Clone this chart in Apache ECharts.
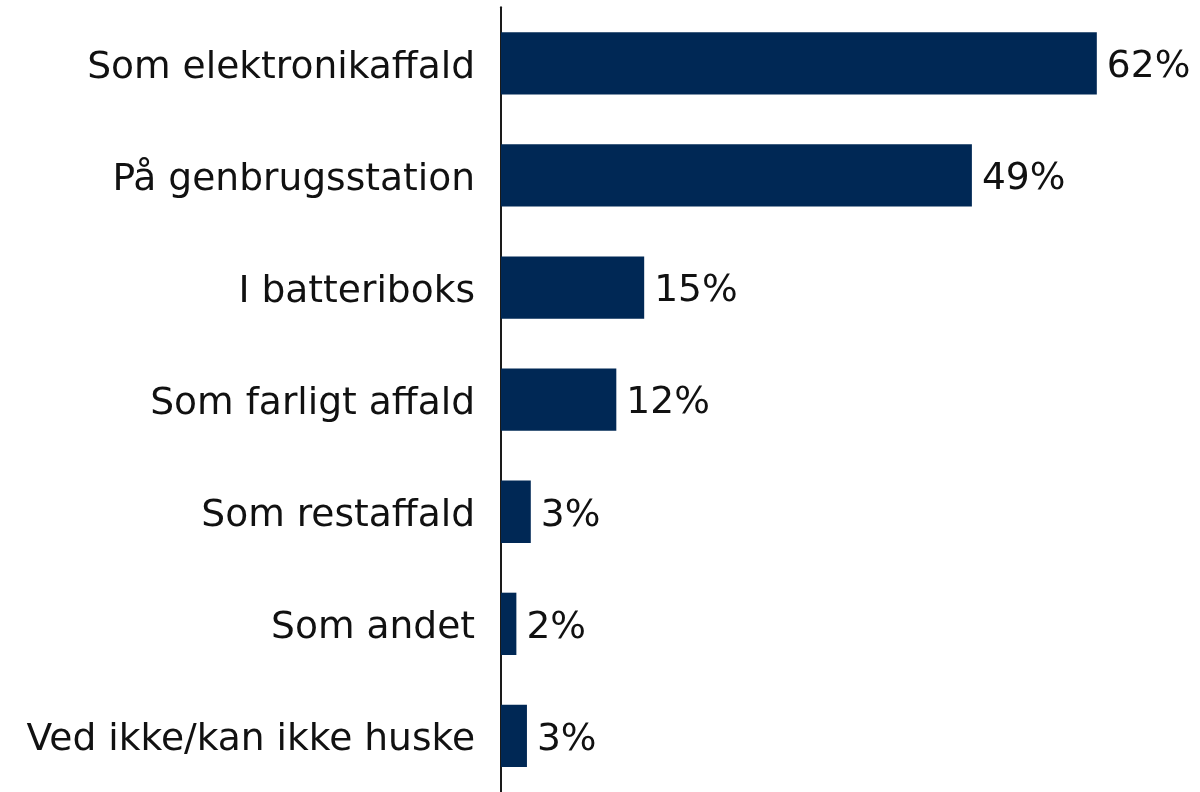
<!DOCTYPE html>
<html><head><meta charset="utf-8">
<script src="https://cdn.jsdelivr.net/npm/echarts@6/dist/echarts.min.js"></script>
<style>html,body{margin:0;padding:0;background:#fff}#c{width:1200px;height:792px}</style>
</head><body><div id="c"></div>
<script>
const categories = ["Som elektronikaffald","På genbrugsstation","I batteriboks","Som farligt affald","Som restaffald","Som andet","Ved ikke/kan ikke huske"];
const values = [62, 49, 14.9, 12, 3.1, 1.6, 2.7];
const labels = ["62%","49%","15%","12%","3%","2%","3%"];

const chart = echarts.init(document.getElementById('c'), null, {renderer:'canvas'});
chart.setOption({
  animation:false,
  backgroundColor:'#fff',
  grid:{left:501, right:26.3, top:7.3, bottom:-1.7, containLabel:false},
  xAxis:{type:'value', min:0, max:70, show:false},
  yAxis:{type:'category', data:categories, inverse:true,
    axisLine:{show:true, lineStyle:{color:'#1a1a1a', width:2}},
    axisTick:{show:false},
    axisLabel:{color:'#111', margin:26,
      formatter:v=>'{a|'+v+'}',
      rich:{a:{fontFamily:'DejaVu Sans', fontSize:37.6, color:'#111', padding:[9,0,0,0]}}}
  },
  series:[{type:'bar', data:values, barCategoryGap:'44.4%',
    itemStyle:{color:'#002855'},
    label:{show:true, position:'right', distance:10, fontFamily:'DejaVu Sans', fontSize:37.6, color:'#111',
      offset:[0,4], formatter:p=>labels[p.dataIndex]}
  }]
});
</script></body></html>
